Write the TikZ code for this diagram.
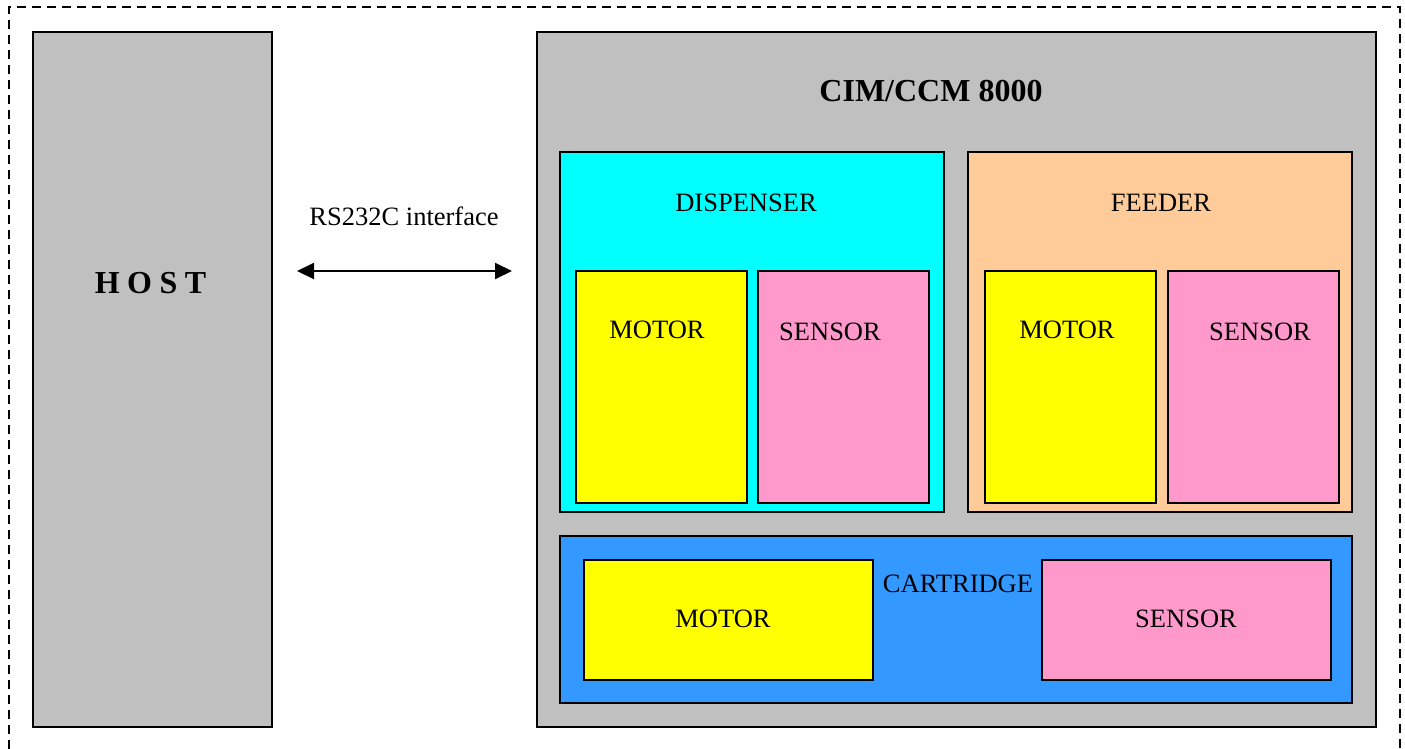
\documentclass[tikz,border=0pt]{standalone}
\usepackage{fontspec}
\setmainfont{Liberation Serif}
\usetikzlibrary{
    arrows.meta, % for the arrow tips of the interface link
    positioning % for placing nodes relative to other nodes
}

\definecolor{boxgray}{HTML}{C0C0C0}
\definecolor{dispcyan}{HTML}{00FFFF}
\definecolor{feedpeach}{HTML}{FFCC99}
\definecolor{motoryellow}{HTML}{FFFF00}
\definecolor{sensorpink}{HTML}{FF99CC}
\definecolor{cartblue}{HTML}{3399FF}

\begin{document}
\begin{tikzpicture}[
        x=1pt,y=-1pt,
        unit/.style        = {draw=black,line width=2pt,rectangle,inner sep=0pt},
        big unit/.style    = {unit,fill=boxgray},
        group unit/.style  = {unit,minimum width=384pt,minimum height=360pt},
        part/.style        = {unit,minimum width=171pt,minimum height=232pt},
        wide part/.style   = {unit,minimum width=289pt,minimum height=120pt},
        motor/.style       = {fill=motoryellow},
        sensor/.style      = {fill=sensorpink},
        plain label/.style = {font=\fontsize{26.5}{30}\selectfont,inner sep=0pt},
        bold label/.style  = {font=\fontsize{32}{36}\selectfont\bfseries,inner sep=0pt},
        frame/.style       = {line width=1.6pt,dash pattern=on 9pt off 6pt}
    ]
    \useasboundingbox (0,0) rectangle (1405,749);

    % outer dashed frame (bottom edge is cut off)
        \draw [frame] (9,749) -- (9,7) -- (1400,7) -- (1400,749);

    % host and controller
        \node [big unit,minimum width=239pt,minimum height=695pt] (host) at (152.5,379.5) {};
        \node [bold label] (hostlabel) at (150.5,283) {H\hspace{7.5pt}O\hspace{7.5pt}S\hspace{7.5pt}T};
        \node [big unit,minimum width=839pt,minimum height=695pt] (cim) at (956.5,379.5) {};
        \node [bold label] (cimlabel) at (931,91) {CIM/CCM 8000};

    % interface link
        \coordinate (linkl) at (297,271);
        \coordinate (linkr) at (512,271);
        \draw [line width=2pt,{Triangle[length=17pt,width=16pt]}-{Triangle[length=17pt,width=16pt]}] (linkl) -- (linkr);
        \node [plain label] (linklabel) at (404,216) {RS232C interface};

    % dispenser
        \node [group unit,fill=dispcyan] (disp) at (752,332) {};
        \node [plain label] (displabel) at (746,203) {DISPENSER};
        \node [part,motor]  (dmotor)  at (661.5,387) {};
        \node [part,sensor] (dsensor) [right=9pt of dmotor] {};
        \node [plain label] (dmotorlabel)  at (657,330) {MOTOR};
        \node [plain label] (dsensorlabel) at (830,332) {SENSOR};

    % feeder
        \node [group unit,fill=feedpeach] (feed) at (1160,332) {};
        \node [plain label] (feedlabel) at (1161,203) {FEEDER};
        \node [part,motor]  (fmotor)  at (1070.5,387) {};
        \node [part,sensor] (fsensor) [right=10pt of fmotor] {};
        \node [plain label] (fmotorlabel)  at (1067,330) {MOTOR};
        \node [plain label] (fsensorlabel) at (1260,332) {SENSOR};

    % cartridge
        \node [unit,fill=cartblue,minimum width=792pt,minimum height=167pt] (cart) at (956,619.5) {};
        \node [plain label] (cartlabel) at (958,584) {CARTRIDGE};
        \node [wide part,motor]  (cmotor)  at (728,620) {};
        \node [wide part,sensor] (csensor) at (1186,620) {};
        \node [plain label] (cmotorlabel)  at (723,619) {MOTOR};
        \node [plain label] (csensorlabel) at (1186,619) {SENSOR};
\end{tikzpicture}
\end{document}
